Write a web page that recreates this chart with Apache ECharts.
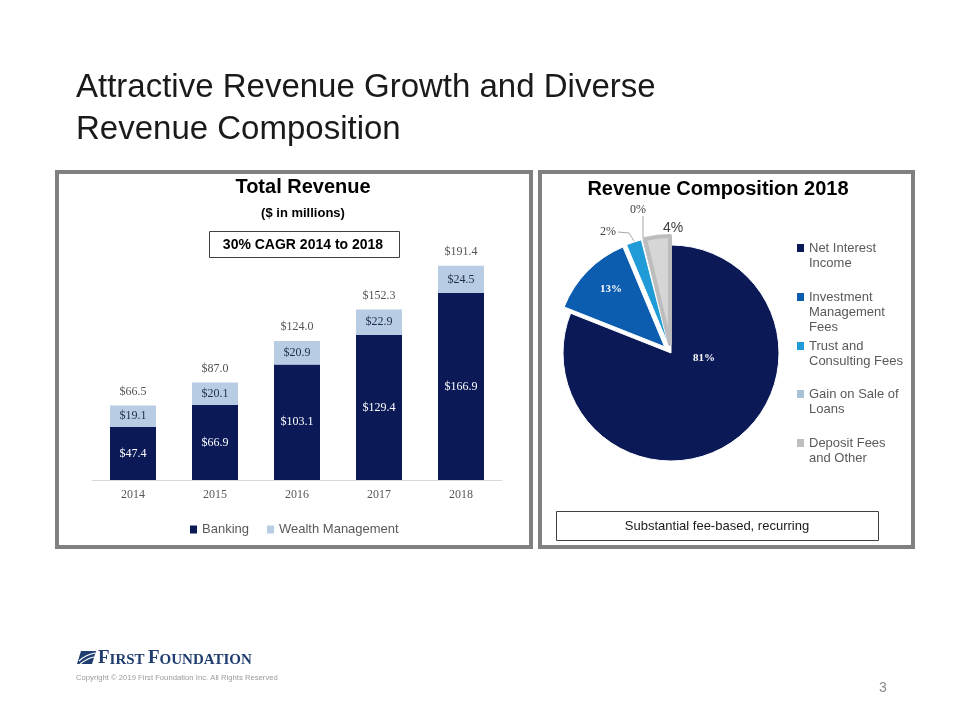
<!DOCTYPE html>
<html>
<head>
<meta charset="utf-8">
<script src="https://cdn.jsdelivr.net/npm/echarts@6/dist/echarts.min.js"></script>
<style>
html,body{margin:0;padding:0;background:#fff;}
#c{width:960px;height:720px;}
</style>
</head>
<body>
<div id="c"></div>
<script>
// ---- data ----
const years = ['2014', '2015', '2016', '2017', '2018'];
const banking = [47.4, 66.9, 103.1, 129.4, 166.9];
const wealth = [19.1, 20.1, 20.9, 22.9, 24.5];
const totals = [66.5, 87.0, 124.0, 152.3, 191.4];
const barSeriesNames = ['Banking', 'Wealth Management'];

const pieNames = ['Net Interest Income', 'Investment Management Fees', 'Trust and Consulting Fees', 'Gain on Sale of Loans', 'Deposit Fees and Other'];
const pieLegendText = ['Net Interest\nIncome', 'Investment\nManagement\nFees', 'Trust and\nConsulting Fees', 'Gain on Sale of\nLoans', 'Deposit Fees\nand Other'];
const pieValues = [81.0, 12.7, 2.3, 0.3, 3.7];

// ---- styles ----
const NAVY = '#0b1a57';
const LIGHT = '#b8cce4';
const pieColors = ['#0b1a57', '#0c5cb0', '#1f9bd7', '#a9c2d8', '#d4d4d4'];
const legendIconColors = ['#0b1a57', '#0c5cb0', '#1f9bd7', '#a9c2d8', '#bfbfbf'];
const SERIF = '"Liberation Serif", "DejaVu Serif", serif';
const SANS = '"Liberation Sans", Arial, sans-serif';

const chart = echarts.init(document.getElementById('c'), null, {renderer: 'canvas'});

// pie label positions (layout only)
const pieLabelPos = [
  {x: 704, y: 358},
  {x: 611, y: 289},
  {x: 608, y: 232, line: [[618, 232], [629, 233], [634, 241]]},
  {x: 638, y: 210, line: [[643, 216], [643, 240]]},
  {x: 673, y: 228}
];
const legendFirstLine = [248, 297, 346, 394, 443];
const LH = 15;

const pieLegends = pieNames.map((n, i) => {
  const lines = pieLegendText[i].split('\n').length;
  const txt = '\n'.repeat(lines - 1) + pieLegendText[i];
  return {
    orient: 'vertical',
    left: 797,
    top: legendFirstLine[i] - (LH * (2 * lines - 1)) / 2,
    padding: 0,
    itemWidth: 7,
    itemHeight: 8,
    itemGap: 0,
    icon: 'rect',
    selectedMode: false,
    data: [{name: n, itemStyle: {color: legendIconColors[i], borderWidth: 0}}],
    formatter: () => txt,
    textStyle: {fontFamily: SANS, fontSize: 13, color: '#595959', lineHeight: LH}
  };
});

const pieCommon = {
  center: [671, 353], radius: 108, startAngle: 90, clockwise: true,
  avoidLabelOverlap: false,
  emphasis: {disabled: true}
};

const option = {
  backgroundColor: '#ffffff',
  animation: false,
  grid: {left: 92, width: 410, top: 256, bottom: 240, containLabel: false},
  xAxis: {
    type: 'category',
    data: years,
    axisLine: {lineStyle: {color: '#d9d9d9', width: 1}},
    axisTick: {show: false},
    axisLabel: {fontFamily: SERIF, fontSize: 12, color: '#595959', margin: 9}
  },
  yAxis: {type: 'value', min: 0, max: 200, show: false, splitLine: {show: false}},
  legend: [
    {
      left: 190, top: 523, padding: 0,
      itemWidth: 7, itemHeight: 8, itemGap: 18, icon: 'rect',
      data: barSeriesNames,
      textStyle: {fontFamily: SANS, fontSize: 13, color: '#595959'}
    }
  ].concat(pieLegends),
  series: [
    {
      name: barSeriesNames[0], type: 'bar', stack: 'rev', data: banking, barWidth: 46,
      itemStyle: {color: NAVY},
      label: {show: true, position: 'inside', fontFamily: SERIF, fontSize: 12, color: '#ffffff',
        formatter: p => '$' + p.value.toFixed(1)}
    },
    {
      name: barSeriesNames[1], type: 'bar', stack: 'rev', data: wealth, barWidth: 46,
      itemStyle: {color: LIGHT},
      label: {show: true, position: 'inside', fontFamily: SERIF, fontSize: 12, color: '#1f2d4d',
        formatter: p => '$' + p.value.toFixed(1)}
    },
    {
      name: 'Total', type: 'scatter', data: totals, symbolSize: 0, silent: true,
      label: {show: true, position: 'top', distance: 8, fontFamily: SERIF, fontSize: 12, color: '#262626',
        formatter: p => '$' + p.value.toFixed(1)}
    },
    Object.assign({}, pieCommon, {
      name: 'Revenue Composition 2018', type: 'pie',
      selectedMode: 'multiple', selectedOffset: 9,
      label: {show: false},
      labelLine: {show: false},
      data: pieNames.map((n, i) => ({
        name: n, value: pieValues[i], selected: i > 0,
        itemStyle: i === 4
          ? {color: '#d6d6d6', borderColor: '#bdbdbd', borderWidth: 4}
          : {color: pieColors[i], borderColor: '#ffffff', borderWidth: 1},
        select: {itemStyle: i === 4
          ? {color: '#d6d6d6', borderColor: '#bdbdbd', borderWidth: 4}
          : {color: pieColors[i], borderColor: '#ffffff', borderWidth: 1}}
      }))
    }),
    Object.assign({}, pieCommon, {
      name: 'Revenue Composition 2018 labels', type: 'pie', silent: true,
      selectedMode: false,
      itemStyle: {color: 'rgba(0,0,0,0)', borderWidth: 0},
      data: pieNames.map((n, i) => ({
        name: n, value: pieValues[i],
        itemStyle: {color: 'rgba(0,0,0,0)', borderWidth: 0},
        label: i < 2
          ? {position: 'inside', color: '#ffffff', fontFamily: SERIF, fontWeight: 'bold', fontSize: 11}
          : (i === 4
            ? {position: 'outside', color: '#404040', fontFamily: SANS, fontSize: 14}
            : {position: 'outside', color: '#404040', fontFamily: SERIF, fontSize: 12}),
        labelLine: {show: i === 2 || i === 3, length: 6, length2: 6, lineStyle: {color: '#a6a6a6', width: 1}}
      })),
      label: {show: true, formatter: p => Math.round(p.percent) + '%'},
      labelLayout: function (params) {
        const p = pieLabelPos[params.dataIndex];
        const out = {x: p.x, y: p.y, align: 'center', verticalAlign: 'middle'};
        if (p.line) out.labelLinePoints = p.line;
        return out;
      }
    })
  ],
  graphic: [
    // page title
    {type: 'text', x: 76, y: 88, style: {text: 'Attractive Revenue Growth and Diverse', font: '33px ' + SANS, fill: '#1a1a1a', verticalAlign: 'middle'}},
    {type: 'text', x: 76, y: 130, style: {text: 'Revenue Composition', font: '33px ' + SANS, fill: '#1a1a1a', verticalAlign: 'middle'}},
    // panels
    {type: 'rect', shape: {x: 57, y: 172, width: 474, height: 375}, style: {fill: 'none', stroke: '#808080', lineWidth: 4}},
    {type: 'rect', shape: {x: 540, y: 172, width: 373, height: 375}, style: {fill: 'none', stroke: '#808080', lineWidth: 4}},
    // left panel titles
    {type: 'text', x: 303, y: 187, style: {text: 'Total Revenue', font: 'bold 20px ' + SANS, fill: '#000', align: 'center', verticalAlign: 'middle'}},
    {type: 'text', x: 303, y: 213, style: {text: '($ in millions)', font: 'bold 13px ' + SANS, fill: '#000', align: 'center', verticalAlign: 'middle'}},
    {type: 'rect', shape: {x: 209.5, y: 231.5, width: 190, height: 26}, style: {fill: '#fff', stroke: '#404040', lineWidth: 1}},
    {type: 'text', x: 303, y: 245, style: {text: '30% CAGR 2014 to 2018', font: 'bold 14px ' + SANS, fill: '#000', align: 'center', verticalAlign: 'middle'}},
    // right panel title
    {type: 'text', x: 718, y: 189, style: {text: 'Revenue Composition 2018', font: 'bold 20px ' + SANS, fill: '#000', align: 'center', verticalAlign: 'middle'}},
    {type: 'rect', shape: {x: 556.5, y: 511.5, width: 322, height: 29}, style: {fill: '#fff', stroke: '#404040', lineWidth: 1}},
    {type: 'text', x: 717, y: 526, style: {text: 'Substantial fee-based, recurring', font: '13px ' + SANS, fill: '#1a1a1a', align: 'center', verticalAlign: 'middle'}},
    // logo
    {type: 'polygon', shape: {points: [[77, 664], [81, 651], [96, 651], [92, 664]]}, style: {fill: '#1f3d6e'}},
    {type: 'polyline', shape: {points: [[79, 661], [86, 656], [95, 653]], smooth: 0.5}, style: {stroke: '#fff', lineWidth: 1.2, fill: 'none'}},
    {type: 'polyline', shape: {points: [[80, 664], [88, 659], [94, 657]], smooth: 0.5}, style: {stroke: '#fff', lineWidth: 1.2, fill: 'none'}},
    {type: 'text', x: 98, y: 658, style: {
      text: '{b|F}{s|IRST} {b|F}{s|OUNDATION}', verticalAlign: 'middle',
      rich: {
        b: {fontFamily: SERIF, fontWeight: 'bold', fontSize: 19, fill: '#1f3d6e', color: '#1f3d6e', verticalAlign: 'bottom'},
        s: {fontFamily: SERIF, fontWeight: 'bold', fontSize: 15, fill: '#1f3d6e', color: '#1f3d6e', verticalAlign: 'bottom'}
      }
    }},
    {type: 'text', x: 76, y: 678, style: {text: 'Copyright \u00a9 2019 First Foundation Inc. All Rights Reserved', font: '7.7px ' + SANS, fill: '#9a9a9a', verticalAlign: 'middle'}},
    {type: 'text', x: 883, y: 688, style: {text: '3', font: '14px ' + SANS, fill: '#8c8c8c', align: 'center', verticalAlign: 'middle'}}
  ]
};
chart.setOption(option);
</script>
</body>
</html>
